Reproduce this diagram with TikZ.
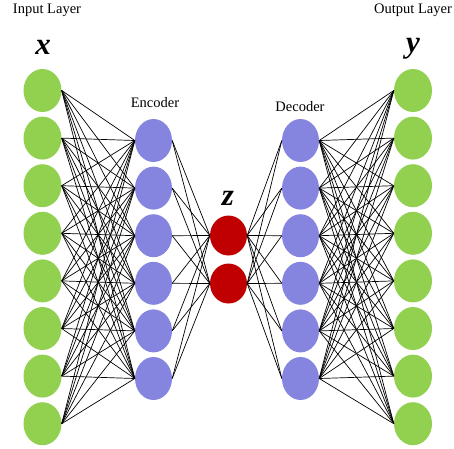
\documentclass[tikz,border=0pt]{standalone}
\usepackage{fontspec}
\setmainfont{Liberation Serif}
\usetikzlibrary{shapes.geometric}
\definecolor{ingreen}{HTML}{92D050}
\definecolor{encblue}{HTML}{8585E0}
\definecolor{zred}{HTML}{C00000}
\tikzset{
  neuron/.style={ellipse, inner sep=0pt, minimum width=38pt, minimum height=43pt},
  greennode/.style={neuron, fill=ingreen},
  bluenode/.style={neuron, fill=encblue, minimum width=37pt},
  rednode/.style={neuron, fill=zred, minimum width=37pt, minimum height=40pt},
  conn/.style={black, line width=0.7pt},
  lbl/.style={font=\fontsize{14.5}{16}\selectfont, inner sep=0pt},
  var/.style={font=\fontsize{31}{33}\selectfont\bfseries\itshape, inner sep=0pt}
}
\begin{document}
\begin{tikzpicture}[x=1pt,y=-1pt]
\useasboundingbox (0,0) rectangle (454,448);
% nodes
\foreach \i in {1,...,8} {
  \node[greennode] (in\i) at (42.5, {90.5+47.6*(\i-1)}) {};
  \node[greennode] (out\i) at (413, {90.5+47.6*(\i-1)}) {};
}
\foreach \i in {1,...,6} {
  \node[bluenode] (en\i) at (153.5, {140.5+47.6*(\i-1)}) {};
  \node[bluenode] (de\i) at (300.5, {140.5+47.6*(\i-1)}) {};
}
\node[rednode] (z1) at (228.5, 235.5) {};
\node[rednode] (z2) at (228.5, 283.5) {};
% connectors
\foreach \i in {1,...,8} \foreach \j in {1,...,6} {
  \draw[conn] (in\i.east) -- (en\j.west);
  \draw[conn] (de\j.east) -- (out\i.west);
}
\foreach \j in {1,...,6} \foreach \k in {1,2} {
  \draw[conn] (en\j.east) -- (z\k.west);
  \draw[conn] (z\k.east) -- (de\j.west);
}
% labels
\node[lbl] (lin) at (47, 10) {Input Layer};
\node[lbl] (lout) at (413, 10) {Output Layer};
\node[lbl] (lenc) at (155, 103) {Encoder};
\node[lbl] (ldec) at (300, 107) {Decoder};
\node[var] (vx) at (43, 47) {x};
\node[var] (vy) at (413, 49) {y};
\node[var] (vz) at (228, 198) {z};
\end{tikzpicture}
\end{document}
